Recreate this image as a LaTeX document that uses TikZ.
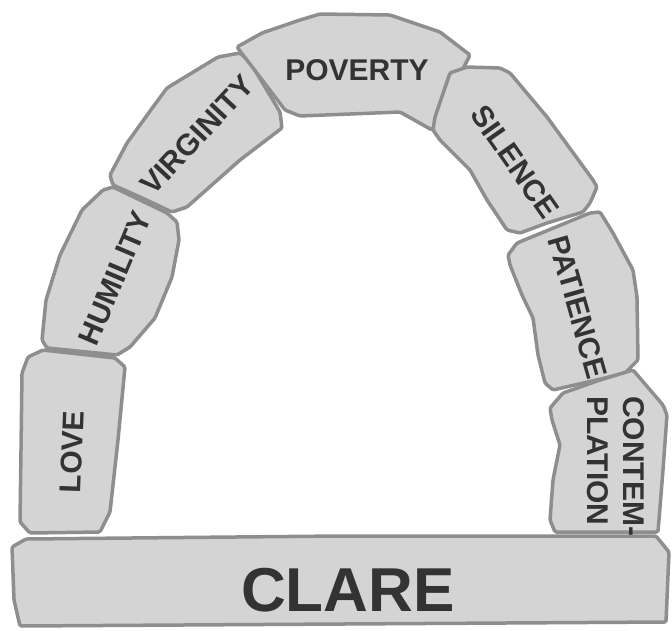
\documentclass[tikz,border=0pt]{standalone}
\usepackage{fontspec}
\setmainfont{Liberation Sans}
\usepackage{xcolor}
\usepackage{tikz}
\usetikzlibrary{calc}

\definecolor{stonefill}{HTML}{D4D4D4}
\definecolor{stoneedge}{HTML}{8E8E8E}
\definecolor{stonetext}{HTML}{333333}

\begin{document}
\begin{tikzpicture}[x=1pt, y=-1pt,
    stone/.style={fill=stonefill, draw=stoneedge, line width=3.5pt, line join=round, rounded corners=1.5pt},
    virtue/.style={text=stonetext, font=\fontsize{30}{36}\selectfont\bfseries, inner sep=0pt}]
    % 0. Page frame
    \useasboundingbox (0,0) rectangle (672,630);

    % 1. Left side of the arch
    \draw[stone] (22,373) -- (28,357) -- (43,350) -- (115,358) -- (125,367) -- (118,440)
        -- (110,512) -- (100,532) -- (30,533) -- (20,522) -- (21,450) -- cycle;
    \draw[stone] (42,340) -- (46,300) -- (60,255) -- (82,210) -- (103,190) -- (113,187)
        -- (167,213) -- (177,222) -- (179,240) -- (172,277) -- (155,318) -- (130,347)
        -- (117,355) -- (47,348) -- cycle;
    \draw[stone] (110,175) -- (127,143) -- (153,107) -- (167,88) -- (218,57) -- (240,53)
        -- (250,62) -- (280,112) -- (282,128) -- (240,160) -- (187,207) -- (172,212)
        -- (140,197) -- (113,185) -- cycle;

    % 2. Key stone
    \draw[stone] (237,47) -- (262,33) -- (300,20) -- (320,14) -- (390,15) -- (440,32)
        -- (470,55) -- (432,130) -- (400,112) -- (300,116) -- (285,110) -- cycle;

    % 3. Right side of the arch
    \draw[stone] (450,73) -- (467,67) -- (500,68) -- (510,73) -- (547,117) -- (593,180)
        -- (597,187) -- (590,203) -- (583,212) -- (547,223) -- (520,233) -- (507,230)
        -- (487,200) -- (470,170) -- (440,140) -- (433,130) -- (435,117) -- cycle;
    \draw[stone] (508,255) -- (517,243) -- (590,213) -- (600,212) -- (613,233) -- (633,270)
        -- (637,297) -- (638,360) -- (625,373) -- (605,378) -- (553,390) -- (545,383)
        -- (538,355) -- (533,318) -- (522,295) -- (510,265) -- cycle;
    \draw[stone] (550,408) -- (563,393) -- (600,380) -- (633,370) -- (663,405) -- (667,415)
        -- (663,470) -- (658,532) -- (555,532) -- (550,520) -- (553,480) -- (560,445)
        -- (552,420) -- cycle;

    % 4. Base stone
    \draw[stone] (12,547) -- (26,539) -- (340,536) -- (656,536) -- (669,552) -- (666,622)
        -- (20,626) -- (14,600) -- cycle;

    % 5. Names on the stones
    \node[virtue, rotate=88] (love) at (72,452) {LOVE};
    \node[virtue, rotate=67] (humility) at (115,278) {HUMILITY};
    \node[virtue, rotate=47] (virginity) at (197,135) {VIRGINITY};
    \node[virtue] (poverty) at (357,70) {POVERTY};
    \node[virtue, rotate=-55] (silence) at (515,162) {SILENCE};
    \node[virtue, rotate=-74] (patience) at (578,307) {PATIENCE};
    \node[virtue, rotate=-90, align=left] (contemplation) at (616,466) {CONTEM-\\PLATION};
    \node[virtue, font=\fontsize{62}{70}\selectfont\bfseries] (clare) at (348,590) {CLARE};

\end{tikzpicture}
\end{document}
